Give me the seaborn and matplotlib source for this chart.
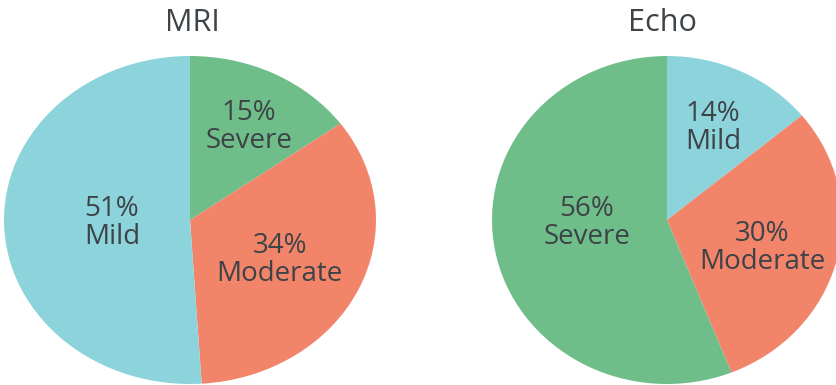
import numpy as np
import matplotlib
matplotlib.use("Agg")
import matplotlib.pyplot as plt
import seaborn as sns

sns.set_theme(style="white")
plt.rcParams["font.family"] = ["Open Sans", "DejaVu Sans"]

# data
mri_labels = ["Severe", "Moderate", "Mild"]
mri_values = [15, 34, 51]
echo_labels = ["Mild", "Moderate", "Severe"]
echo_values = [14, 30, 56]

colors = {"Mild": "#8dd3dc", "Moderate": "#f2846a", "Severe": "#6fbe8a"}
text_color = "#3d4347"

fig = plt.figure(figsize=(8.36, 3.85), dpi=100)
W, H = 836, 385


def draw_pie(title, labels, values, cx, cy, rx, ry, label_r, label_dtheta, title_x):
    # cx, cy in pixels from top-left, rx/ry pie radii in pixels
    ax = fig.add_axes([(cx - rx) / W, (H - cy - ry) / H, 2 * rx / W, 2 * ry / H])
    wedges, _ = ax.pie(
        values,
        colors=[colors[l] for l in labels],
        startangle=90,
        counterclock=False,
        wedgeprops=dict(linewidth=0),
    )
    ax.set_aspect("auto")
    ax.set_xlim(-1, 1)
    ax.set_ylim(-1, 1)
    ax.axis("off")
    for w, lab, val, r, dt in zip(wedges, labels, values, label_r, label_dtheta):
        mid = np.deg2rad((w.theta1 + w.theta2) / 2 + dt)
        ax.text(r * np.cos(mid), r * np.sin(mid), f"{val}%\n{lab}",
                ha="center", va="center", fontsize=20, color=text_color,
                linespacing=1.0)
    fig.text(title_x / W, 1 - 23 / H, title, ha="center", va="center",
             fontsize=22, color=text_color)


draw_pie("MRI", mri_labels, mri_values, 190, 220, 186, 164,
         [0.65, 0.54, 0.42], [-2.3, -1.4, 0.9], 192)
draw_pie("Echo", echo_labels, echo_values, 667, 220, 175, 164,
         [0.62, 0.57, 0.46], [0.0, -3.1, -8.3], 662)

fig.savefig("out.png", dpi=100, facecolor="white")
